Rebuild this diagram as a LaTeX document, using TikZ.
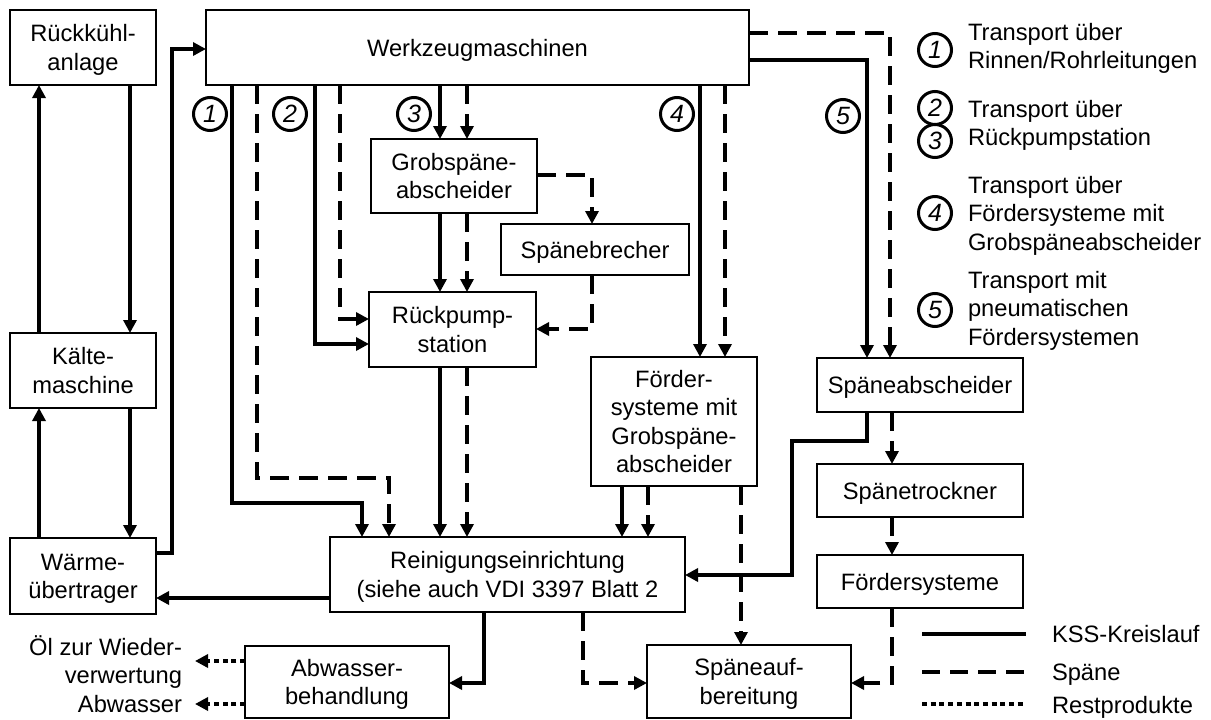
\documentclass[tikz,border=0pt]{standalone}
\usepackage{fontspec}
\setmainfont{Liberation Sans}
\usetikzlibrary{arrows.meta}
% line strut: fixes every text line to the same height and depth
\newcommand{\Ls}{\rule[-5.75pt]{0pt}{28.5pt}}
\begin{document}
\begin{tikzpicture}[x=1pt,y=-1pt,
  box/.style={draw, line width=2.3pt, inner sep=0pt, outer sep=0pt, align=center,
              font=\fontsize{23.7}{28.5}\selectfont},
  txt/.style={inner sep=0pt, outer sep=0pt, font=\fontsize{23.7}{28.5}\selectfont},
  num/.style={draw, circle, line width=3pt, minimum size=33pt, inner sep=0pt,
              font=\fontsize{25}{28}\selectfont\itshape},
  arr/.style={-{Triangle[length=13pt,width=13pt]}},
  kss/.style={line width=3.3pt, arr},
  spn/.style={line width=3.3pt, dash pattern=on 19pt off 10pt, arr},
  rst/.style={line width=3.3pt, dash pattern=on 5pt off 3.7pt, arr},
  kssline/.style={line width=3.3pt},
  spnline/.style={line width=3.3pt, dash pattern=on 18pt off 10pt},
  rstline/.style={line width=3.3pt, dash pattern=on 5pt off 3.7pt},
]
\useasboundingbox (0,0) rectangle (1211,720);

% ---------- boxes ----------
\node[box, minimum width=146pt, minimum height=75pt] (rk) at (83,47.5) {\Ls R\"uckk\"uhl-\\\Ls anlage};
\node[box, minimum width=543pt, minimum height=75pt] (wz) at (477.5,47.5) {\Ls Werkzeugmaschinen};
\node[box, minimum width=146pt, minimum height=75pt] (km) at (83,370.5) {\Ls K\"alte-\\\Ls maschine};
\node[box, minimum width=146pt, minimum height=76pt] (wu) at (83,576) {\Ls W\"arme-\\\Ls \"ubertrager};
\node[box, minimum width=166pt, minimum height=74pt] (gs) at (454,176) {\Ls Grobsp\"ane-\\\Ls abscheider};
\node[box, minimum width=188pt, minimum height=51pt] (sb) at (595,249.5) {\Ls Sp\"anebrecher};
\node[box, minimum width=167pt, minimum height=75pt] (rp) at (452.5,329.5) {\Ls R\"uckpump-\\\Ls station};
\node[box, minimum width=166pt, minimum height=129pt] (fm) at (674,421.5)
  {\Ls F\"order-\\\Ls systeme mit\\\Ls Grobsp\"ane-\\\Ls abscheider};
\node[box, minimum width=206pt, minimum height=54pt] (sa) at (920,385) {\Ls Sp\"aneabscheider};
\node[box, minimum width=206pt, minimum height=53pt] (st) at (920,490.5) {\Ls Sp\"anetrockner};
\node[box, minimum width=206pt, minimum height=53pt] (fs) at (920,581.5) {\Ls F\"ordersysteme};
\node[box, minimum width=355pt, minimum height=75pt] (re) at (507.5,574.5)
  {\Ls Reinigungseinrichtung\\\Ls (siehe auch VDI 3397 Blatt 2};
\node[box, minimum width=204pt, minimum height=72pt] (ab) at (347,682) {\Ls Abwasser-\\\Ls behandlung};
\node[box, minimum width=204pt, minimum height=73pt] (su) at (749,681.5) {\Ls Sp\"aneauf-\\\Ls bereitung};

% ---------- outputs of the waste water treatment ----------
\node[txt, align=right, anchor=east] (oel) at (182,661) {\Ls \"Ol zur Wieder-\\\Ls verwertung};
\node[txt, anchor=east] (abw) at (182,704) {\Ls Abwasser};

% ---------- route numbers ----------
\node[num] (n1) at (210,114) {1};
\node[num] (n2) at (290,114) {2};
\node[num] (n3) at (414,114) {3};
\node[num] (n4) at (677,114) {4};
\node[num] (n5) at (843,116) {5};

% ---------- coolant circuit (solid) ----------
\draw[kss] (wu.east |- 0,553) -| (172,49) -- (wz.west |- 0,49);
\draw[kss] (39,0 |- km.north) -- (39,0 |- rk.south);
\draw[kss] (130,0 |- rk.south) -- (130,0 |- km.north);
\draw[kss] (39,0 |- wu.north) -- (39,0 |- km.south);
\draw[kss] (130,0 |- km.south) -- (130,0 |- wu.north);
\draw[kss] (re.west |- 0,598) -- (wu.east |- 0,598);
\draw[kss] (232,0 |- wz.south) |- (362,503) -- (362,0 |- re.north);
\draw[kss] (315,0 |- wz.south) |- (rp.west |- 0,344);
\draw[kss] (440,0 |- wz.south) -- (440,0 |- gs.north);
\draw[kss] (440,0 |- gs.south) -- (440,0 |- rp.north);
\draw[kss] (440,0 |- rp.south) -- (440,0 |- re.north);
\draw[kss] (700,0 |- wz.south) -- (700,0 |- fm.north);
\draw[kss] (622,0 |- fm.south) -- (622,0 |- re.north);
\draw[kss] (wz.east |- 0,60) -| (867,0 |- sa.north);
\draw[kss] (867,0 |- sa.south) |- (792,441) |- (re.east |- 0,575);
\draw[kss] (484,0 |- re.south) |- (ab.east |- 0,683);

% ---------- chips (dashed) ----------
\draw[spn] (257,0 |- wz.south) |- (389,478) -- (389,0 |- re.north);
\draw[spn] (340,0 |- wz.south) |- (rp.west |- 0,319);
\draw[spn] (467,0 |- wz.south) -- (467,0 |- gs.north);
\draw[spn] (gs.east |- 0,175) -| (592,0 |- sb.north);
\draw[spn] (467,0 |- gs.south) -- (467,0 |- rp.north);
\draw[spn] (592,0 |- sb.south) |- (rp.east |- 0,329);
\draw[spn] (467,0 |- rp.south) -- (467,0 |- re.north);
\draw[spn] (725,0 |- wz.south) -- (725,0 |- fm.north);
\draw[spn] (648,0 |- fm.south) -- (648,0 |- re.north);
\draw[spn] (741,0 |- fm.south) -- (741,0 |- su.north);
\draw[spn] (wz.east |- 0,33) -| (890,0 |- sa.north);
\draw[spn] (892,0 |- sa.south) -- (892,0 |- st.north);
\draw[spn] (892,0 |- st.south) -- (892,0 |- fs.north);
\draw[spn] (892,0 |- fs.south) |- (su.east |- 0,683);
\draw[spn] (583,0 |- re.south) |- (su.west |- 0,683);

% ---------- residual products (dotted) ----------
\draw[rst] (ab.west |- oel) -- ([xshift=13pt]oel.east);
\draw[rst] (ab.west |- abw) -- ([xshift=13pt]abw.east);

% ---------- key to the routes ----------
\node[num] (k1) at (935,50) {1};
\node[num] (k2) at (935,108) {2};
\node[num] (k3) at (935,141) {3};
\node[num] (k4) at (935,213) {4};
\node[num] (k5) at (935,310) {5};
\node[txt, align=left, anchor=west] (t1) at (968,45.75) {\Ls Transport \"uber\\\Ls Rinnen/Rohrleitungen};
\node[txt, align=left, anchor=west] (t2) at (968,122.75) {\Ls Transport \"uber\\\Ls R\"uckpumpstation};
\node[txt, align=left, anchor=west] (t4) at (968,213) {\Ls Transport \"uber\\\Ls F\"ordersysteme mit\\\Ls Grobsp\"aneabscheider};
\node[txt, align=left, anchor=west] (t5) at (968,308) {\Ls Transport mit\\\Ls pneumatischen\\\Ls F\"ordersystemen};

% ---------- key to the line types ----------
\draw[kssline] (922,634) -- (1026,634);
\draw[spnline] (922,672) -- (1026,672);
\draw[rstline] (922,704) -- (1026,704);
\node[txt, anchor=west] (l1) at (1052,633.5) {\Ls KSS-Kreislauf};
\node[txt, anchor=west] (l2) at (1052,671.5) {\Ls Sp\"ane};
\node[txt, anchor=west] (l3) at (1052,704.5) {\Ls Restprodukte};
\end{tikzpicture}
\end{document}
